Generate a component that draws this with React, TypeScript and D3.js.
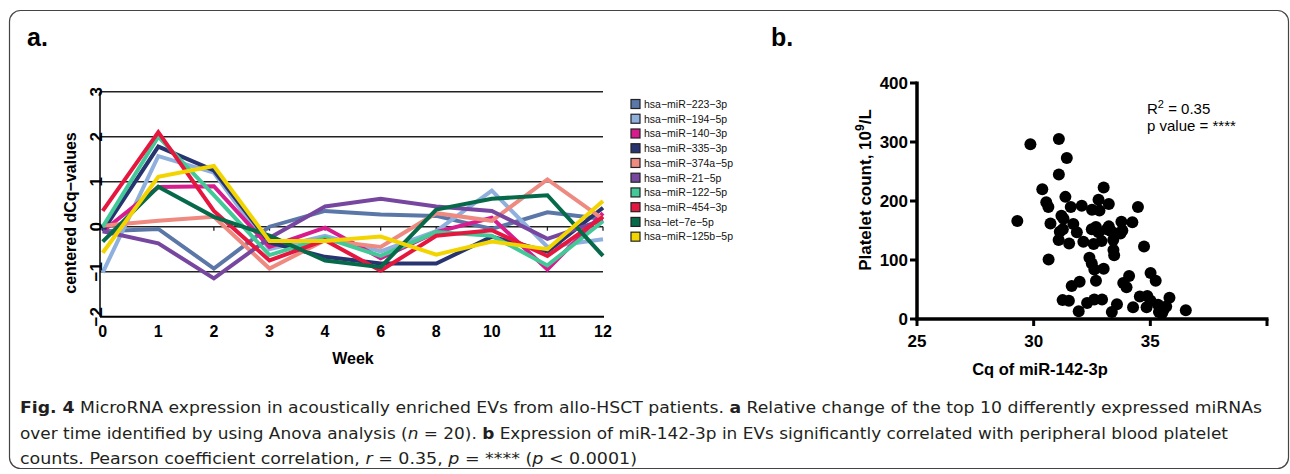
import React from "react";
import * as d3 from "d3";

// ---- panel a: centered dCq values per week ----
const weeks = ["0", "1", "2", "3", "4", "6", "8", "10", "11", "12"];
const yTicksA = [-2, -1, 0, 1, 2, 3];

const mirNames = [
  "hsa\u2212miR\u2212223\u22123p",
  "hsa\u2212miR\u2212194\u22125p",
  "hsa\u2212miR\u2212140\u22123p",
  "hsa\u2212miR\u2212335\u22123p",
  "hsa\u2212miR\u2212374a\u22125p",
  "hsa\u2212miR\u221221\u22125p",
  "hsa\u2212miR\u2212122\u22125p",
  "hsa\u2212miR\u2212454\u22123p",
  "hsa\u2212let\u22127e\u22125p",
  "hsa\u2212miR\u2212125b\u22125p",
];
const mirColors = [
  "#5b77a8", "#8fb0dd", "#d81b8d", "#283470", "#ee8a80",
  "#7747a0", "#43c898", "#e5173f", "#06694a", "#f2d500",
];

const mir223 = [-0.1, -0.05, -0.93, 0.0, 0.35, 0.27, 0.24, -0.05, 0.32, 0.17];
const mir194 = [-1.02, 1.57, 1.2, -0.5, -0.2, -0.55, -0.1, 0.8, -0.45, -0.28];
const mir140 = [-0.1, 0.88, 0.9, -0.45, -0.02, -0.7, -0.12, 0.2, -0.95, 0.3];
const mir335 = [-0.1, 1.78, 1.25, -0.35, -0.67, -0.82, -0.82, -0.22, -0.55, 0.42];
const mir374a = [0.02, 0.13, 0.22, -0.93, -0.3, -0.45, 0.3, 0.13, 1.05, 0.17];
const mir21 = [-0.1, -0.37, -1.15, -0.25, 0.45, 0.62, 0.45, 0.35, -0.27, 0.15];
const mir122 = [0.0, 2.0, 0.7, -0.63, -0.25, -0.65, -0.12, -0.2, -0.86, 0.12];
const mir454 = [0.35, 2.1, 0.35, -0.75, -0.3, -0.98, -0.2, -0.08, -0.65, 0.22];
const let7e = [-0.33, 0.89, 0.22, -0.2, -0.75, -0.9, 0.38, 0.62, 0.7, -0.65];
const mir125b = [-0.58, 1.11, 1.35, -0.32, -0.32, -0.22, -0.62, -0.33, -0.5, 0.57];

const seriesValues = [mir223, mir194, mir140, mir335, mir374a, mir21, mir122, mir454, let7e, mir125b];

// ---- panel b: platelet count vs Cq ----
const cqValues = [
  29.3, 29.86, 31.08, 31.42, 31.08, 30.37, 30.54, 30.63, 31.36, 31.59,
  32.06, 31.19, 31.28, 30.72, 31.7, 31.12, 31.25, 31.85, 31.07, 31.52,
  32.13, 30.64, 32.39, 32.49, 32.6, 33.0, 32.67, 31.97, 31.63, 31.24,
  31.51, 32.29, 32.6, 32.93, 31.93, 32.5, 32.78, 32.82, 33.0, 33.22,
  32.49, 32.67, 32.78, 32.57, 32.91, 33.14, 33.22, 33.31, 33.41, 33.42,
  33.45, 33.5, 33.72, 33.8, 33.76, 34.23, 34.47, 33.84, 33.98, 34.09,
  34.73, 33.35, 33.57, 34.26, 34.55, 34.87, 35.01, 35.23, 34.84, 35.01,
  35.33, 35.57, 35.68, 35.82, 36.52, 35.37, 35.51,
];
const plateletValues = [
  166, 296, 305, 273, 245, 220, 198, 190, 207, 190,
  192, 175, 170, 162, 161, 148, 152, 147, 134, 128,
  131, 101, 104, 94, 84, 85, 65, 63, 56, 32,
  31, 27, 33, 33, 13, 185, 202, 184, 223, 195,
  152, 156, 147, 127, 132, 152, 157, 149, 134, 117,
  108, 145, 145, 150, 165, 164, 190, 61, 54, 73,
  123, 12, 25, 20, 38, 39, 78, 65, 20, 31,
  24, 16, 21, 36, 15, 12, 10,
];
const xTicksB = [25, 30, 35, 40];
const xTickLabelsB = ["25", "30", "35", ""];
const yTicksB = [0, 100, 200, 300, 400];

const ARIAL = "'Liberation Sans', Arial, Helvetica, sans-serif";

export default function App() {
  const xA = d3.scalePoint<string>().domain(weeks).range([102.7, 603]);
  const yA = d3.scaleLinear().domain([-2, 3]).range([316.7, 91.7]);
  const line = d3
    .line<number>()
    .x((_, i) => xA(weeks[i]) as number)
    .y((d) => yA(d));

  const xB = d3.scaleLinear().domain([25, 40]).range([917, 1267]);
  const yB = d3.scaleLinear().domain([0, 400]).range([319, 83]);

  const capFont = "'DejaVu Sans Condensed', 'DejaVu Sans', sans-serif";

  return (
    <svg
      width={1290}
      height={474}
      style={{ position: "absolute", left: 0, top: 0, background: "#fff" }}
    >
      {/* frame */}
      <rect x={9.5} y={10.5} width={1279} height={458} rx={11} fill="none" stroke="#444" strokeWidth={1.2} />

      {/* panel labels */}
      <text x={27} y={46} fontFamily={ARIAL} fontWeight="bold" fontSize={25} fill="#000">a.</text>
      <text x={771} y={46} fontFamily={ARIAL} fontWeight="bold" fontSize={25} fill="#000">b.</text>

      {/* ---------- panel a ---------- */}
      <g>
        {yTicksA.filter((v) => v > -2).map((v) => (
          <line key={v} x1={100} x2={603} y1={yA(v)} y2={yA(v)} stroke="#222" strokeWidth={1.5} />
        ))}
        {weeks.map((w) => (
          <line key={w} x1={xA(w)} x2={xA(w)} y1={yA(0)} y2={yA(0) + 4} stroke="#222" strokeWidth={1.3} />
        ))}
        <line x1={100} x2={100} y1={yA(3)} y2={yA(-2)} stroke="#000" strokeWidth={1.5} />
        <line x1={100} x2={604} y1={yA(-2)} y2={yA(-2)} stroke="#000" strokeWidth={2} />

        {seriesValues.map((vals, i) => (
          <path
            key={mirNames[i]}
            d={line(vals) as string}
            fill="none"
            stroke={mirColors[i]}
            strokeWidth={4}
            strokeLinejoin="miter"
          />
        ))}

        {yTicksA.map((v) => (
          <text
            key={v}
            transform={`translate(102,${yA(v)}) rotate(-90)`}
            textAnchor="middle"
            fontFamily={ARIAL}
            fontWeight="bold"
            fontSize={17}
            fill="#000"
          >
            {v < 0 ? `\u2212${-v}` : v}
          </text>
        ))}
        {weeks.map((w) => (
          <text
            key={w}
            x={xA(w)}
            y={337}
            textAnchor="middle"
            fontFamily={ARIAL}
            fontWeight="bold"
            fontSize={16}
            fill="#000"
          >
            {w}
          </text>
        ))}
        <text x={353} y={364} textAnchor="middle" fontFamily={ARIAL} fontWeight="bold" fontSize={16} fill="#000">
          Week
        </text>
        <text
          transform="translate(76,213) rotate(-90)"
          textAnchor="middle"
          fontFamily={ARIAL}
          fontWeight="bold"
          fontSize={16}
          fill="#000"
        >
          centered dCq{"\u2212"}values
        </text>

        {mirNames.map((name, i) => (
          <g key={name} transform={`translate(631,${104 + i * 14.74})`}>
            <rect x={0} y={-4.5} width={9} height={9} fill={mirColors[i]} stroke="#222" strokeWidth={1.2} />
            <text x={13} y={3.8} fontFamily={ARIAL} fontSize={10.5} fill="#111">
              {name}
            </text>
          </g>
        ))}
      </g>

      {/* ---------- panel b ---------- */}
      <g>
        {cqValues.map((cq, i) => (
          <circle key={i} cx={xB(cq)} cy={yB(plateletValues[i])} r={6} fill="#000" />
        ))}
        <line x1={917} x2={917} y1={yB(400) - 1.5} y2={yB(0) + 1.5} stroke="#000" strokeWidth={3.5} />
        <line x1={915.5} x2={1268.5} y1={yB(0)} y2={yB(0)} stroke="#000" strokeWidth={3.5} />
        {yTicksB.map((v) => (
          <g key={v}>
            <line x1={910} x2={917} y1={yB(v)} y2={yB(v)} stroke="#000" strokeWidth={3} />
            <text
              x={908}
              y={yB(v) + 6}
              textAnchor="end"
              fontFamily={ARIAL}
              fontWeight="bold"
              fontSize={17}
              fill="#000"
            >
              {v}
            </text>
          </g>
        ))}
        {xTicksB.map((v, i) => (
          <g key={v}>
            <line x1={xB(v)} x2={xB(v)} y1={yB(0)} y2={yB(0) + 7} stroke="#000" strokeWidth={3} />
            <text
              x={xB(v)}
              y={347}
              textAnchor="middle"
              fontFamily={ARIAL}
              fontWeight="bold"
              fontSize={17}
              fill="#000"
            >
              {xTickLabelsB[i]}
            </text>
          </g>
        ))}
        <text x={1040} y={375} textAnchor="middle" fontFamily={ARIAL} fontWeight="bold" fontSize={16.5} fill="#000">
          Cq of miR-142-3p
        </text>
        <text
          transform="translate(871,190) rotate(-90)"
          textAnchor="middle"
          fontFamily={ARIAL}
          fontWeight="bold"
          fontSize={17}
          fill="#000"
        >
          Platelet count, 10
          <tspan dy={-7} fontSize={12}>9</tspan>
          <tspan dy={7}>/L</tspan>
        </text>
        <text x={1147} y={114} fontFamily={ARIAL} fontSize={15} fill="#000">
          R<tspan dy={-6} fontSize={11}>2</tspan>
          <tspan dy={6}> = 0.35</tspan>
        </text>
        <text x={1147} y={131} fontFamily={ARIAL} fontSize={15} fill="#000">
          p value = ****
        </text>
      </g>

      {/* ---------- caption ---------- */}
      <g fontFamily={capFont} fontSize={16.5} fill="#231f20" style={{ fontStretch: "condensed" }}>
        <text x={20} y={413} textLength={1242} lengthAdjust="spacingAndGlyphs">
          <tspan fontWeight="bold">Fig. 4</tspan> MicroRNA expression in acoustically enriched EVs from allo-HSCT
          patients. <tspan fontWeight="bold">a</tspan> Relative change of the top 10 differently expressed miRNAs
        </text>
        <text x={20} y={439} textLength={1208} lengthAdjust="spacingAndGlyphs">
          over time identified by using Anova analysis (<tspan fontStyle="italic">n</tspan> = 20).{" "}
          <tspan fontWeight="bold">b</tspan> Expression of miR-142-3p in EVs significantly correlated with peripheral
          blood platelet
        </text>
        <text x={20} y={464} textLength={617} lengthAdjust="spacingAndGlyphs">
          counts. Pearson coefficient correlation, <tspan fontStyle="italic">r</tspan> = 0.35,{" "}
          <tspan fontStyle="italic">p</tspan> = **** (<tspan fontStyle="italic">p</tspan> &lt; 0.0001)
        </text>
      </g>
    </svg>
  );
}
